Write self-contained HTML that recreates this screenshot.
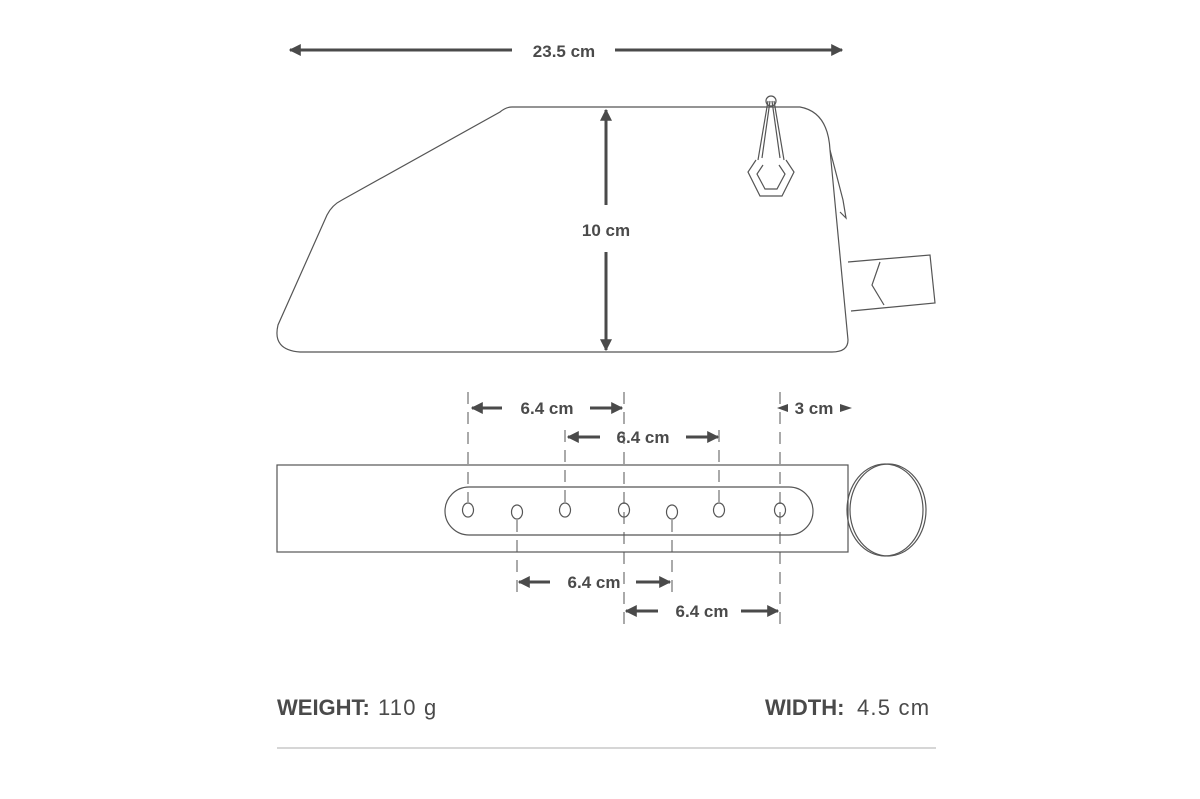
<!DOCTYPE html>
<html><head><meta charset="utf-8"><style>
body{margin:0;background:#fff;}
svg{display:block}
text{font-family:"Liberation Sans",sans-serif;fill:#4a4a4a}
</style></head><body>
<svg width="1200" height="799" viewBox="0 0 1200 799" xmlns="http://www.w3.org/2000/svg">
<defs>
<marker id="ah" viewBox="0 0 10 10" refX="9" refY="5" markerWidth="4" markerHeight="4" orient="auto-start-reverse"><path d="M0,0L10,5L0,10z" fill="#4a4a4a"/></marker>
</defs>
<g stroke="#4a4a4a" stroke-width="3" marker-end="url(#ah)">
<line x1="512" y1="50" x2="290" y2="50"/>
<line x1="615" y1="50" x2="842" y2="50"/>
<line x1="606" y1="205" x2="606" y2="110"/>
<line x1="606" y1="252" x2="606" y2="350"/>
<line x1="502" y1="408" x2="472" y2="408"/>
<line x1="590" y1="408" x2="622" y2="408"/>
<line x1="600" y1="437" x2="568" y2="437"/>
<line x1="686" y1="437" x2="718" y2="437"/>
<line x1="550" y1="582" x2="519" y2="582"/>
<line x1="636" y1="582" x2="670" y2="582"/>
<line x1="658" y1="611" x2="626" y2="611"/>
<line x1="741" y1="611" x2="778" y2="611"/>
</g>
<path d="M777,408 L788,404 L788,412z M852,408 L840,404 L840,412z" fill="#4a4a4a"/>
<g font-weight="bold" font-size="17" text-anchor="middle">
<text x="564" y="57">23.5 cm</text>
<text x="606" y="236">10 cm</text>
<text x="547" y="414">6.4 cm</text>
<text x="643" y="443">6.4 cm</text>
<text x="594" y="588">6.4 cm</text>
<text x="702" y="617">6.4 cm</text>
<text x="814" y="414">3 cm</text>
</g>
<g fill="none" stroke="#555" stroke-width="1.2">
<path d="M512,107 L800,107 Q828,112 830,150 L848,340 Q848,352 832,352 L300,352 Q272,350 278,325 L327,215 Q332,205 342,200 L500,112 Q506,107 512,107z"/>
<path d="M830,150 L843,200 L846,218 L840,212"/>
<path d="M848,262 L930,255 L935,303 L851,311"/>
<path d="M880,262 L872,285 L884,305"/>
<circle cx="771" cy="101" r="5"/>
<path d="M768,101 L758,160 M774,101 L784,160 M770,101 L762,158 M772,101 L780,158"/>
<path d="M756,160 L748,172 L760,196 L782,196 L794,172 L786,160 M763,165 L757,174 L765,189 L777,189 L785,174 L779,165"/>
<rect x="277" y="465" width="571" height="87"/>
<rect x="445" y="487" width="368" height="48" rx="24"/>
<ellipse cx="888" cy="510" rx="38" ry="46"/>
<ellipse cx="885" cy="510" rx="38" ry="46"/>
<g>
<ellipse cx="468" cy="510" rx="5.5" ry="7"/>
<ellipse cx="517" cy="512" rx="5.5" ry="7"/>
<ellipse cx="565" cy="510" rx="5.5" ry="7"/>
<ellipse cx="624" cy="510" rx="5.5" ry="7"/>
<ellipse cx="672" cy="512" rx="5.5" ry="7"/>
<ellipse cx="719" cy="510" rx="5.5" ry="7"/>
<ellipse cx="780" cy="510" rx="5.5" ry="7"/>
</g>
</g>
<g stroke="#555" stroke-width="1" stroke-dasharray="12,8">
<line x1="468" y1="392" x2="468" y2="502"/>
<line x1="565" y1="430" x2="565" y2="502"/>
<line x1="624" y1="392" x2="624" y2="630"/>
<line x1="719" y1="430" x2="719" y2="502"/>
<line x1="780" y1="392" x2="780" y2="630"/>
<line x1="517" y1="520" x2="517" y2="600"/>
<line x1="672" y1="520" x2="672" y2="600"/>
</g>
<text x="277" y="715" font-size="22" font-weight="bold">WEIGHT:</text>
<text x="378" y="715" font-size="22" letter-spacing="1.2">110 g</text>
<text x="765" y="715" font-size="22" font-weight="bold">WIDTH:</text>
<text x="857" y="715" font-size="22" letter-spacing="1.2">4.5 cm</text>
<line x1="277" y1="748" x2="936" y2="748" stroke="#c8c8c8" stroke-width="1.5"/>
</svg>
</body></html>
